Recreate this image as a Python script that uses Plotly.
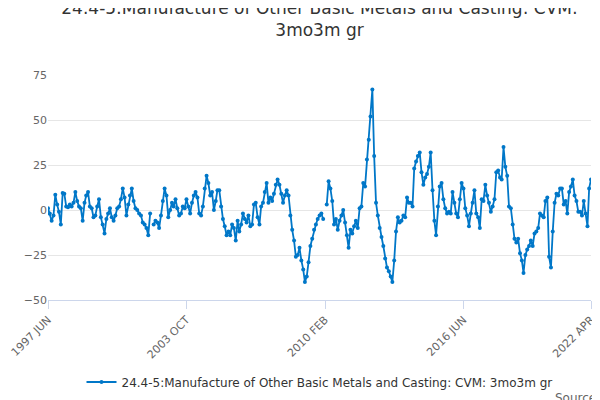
import pandas as pd
import plotly.graph_objects as go

start = "1997-06-01"
values = [
 1, -2, -6, -3, 8.5, 3, -1, -8, 9.4, 9, 2, 1.5,
 3, 2, 4, 10, 5, 2, 1, -6, 4, 8, 10, 2,
 1, -4, -3, 2, 6, -4, -8, -13, -5, -2, 1, -4,
 -6, -3, 1, 2, 6, 12, 7, -3, 3, 8, 12, 5,
 1, 0, -2, -3, -7, -8, -10, -14, -2, None, -8, -6,
 -7, -10, -3, 5, 12, 8, -4, 0, 4, 2, 6, 1,
 -3, -2, 2, 1, 6, 2, -2, 4, 8, 10, 7, -2,
 -3, 2, 12, 19, 15, 8, 10, 0, 5, 11, 11, 2,
 -5, -9, -14, -12, -14, -8, -10, -17, -6, -12, -8, -2,
 -5, -7, -3, -9, -8, 3, 4, -4, -8, 2, 4, 10,
 15, 4, 7, 5, 9, 14, 17, 14, 9, 4, 8, 11,
 8, -3, -11, -17, -26, -25, -21, -28, -33, -40, -37, -29,
 -20, -16, -11, -8, -5, -3, -2, -5, None, 3, 16, 12,
 5, -8, -5, -11, -6, -3, 0, -7, -14, -21, -11, -13,
 -9, -6, -10, 1, 2, 15, 13, 28, 39, 52, 67, 30,
 4, -3, -10, -15, -20, -27, -32, -34, -37, -40, -28, -12,
 -4, -7, -6, -3, -4, 7, 4, 4, 2, 23, 27, 30,
 32, 21, 14, 18, 20, 24, 32, 11, -6, -14, 2, 13,
 15, 6, 1, -2, -1, -2, 10, 4, -2, -4, 6, 15,
 12, 1, -3, -9, -2, 4, 11, -2, -4, -10, 6, 5,
 14, 8, 4, -1, 2, 6, 21, 22, 18, 17, 35, 24,
 19, 2, 1, -8, -16, -18, -16, -24, -28, -35, -25, -22,
 -20, -17, -20, -13, -12, -10, -2, -3, -4, 5, 7, -26,
 -32, -12, 4, 9, 8, 12, 12, 3, 5, -2, 10, 13,
 17, 8, 5, -1, -1, -3, 5, -2, -9, 12, 17,
]
dates = pd.date_range(start, periods=len(values), freq="MS")
tick_dates = ["1997-06-01", "2003-10-01", "2010-02-01", "2016-06-01", "2022-04-01"]
tick_labels = ["1997 JUN", "2003 OCT", "2010 FEB", "2016 JUN", "2022 APR"]
name = "24.4-5:Manufacture of Other Basic Metals and Casting: CVM: 3mo3m gr"

fig = go.Figure(go.Scatter(
    x=dates, y=values, mode="lines+markers", name=name,
    line=dict(color="#0077c8", width=1.8), marker=dict(size=4, color="#0077c8"),
    connectgaps=False))
fig.update_layout(
    width=600, height=400, plot_bgcolor="white", paper_bgcolor="white",
    font=dict(family="DejaVu Sans", color="#666", size=11),
    title=dict(text="24.4-5:Manufacture of Other Basic Metals and Casting: CVM:<br>3mo3m gr",
               x=0.5, xanchor="center", xref="paper", y=0.985, yref="container", yanchor="top",
               font=dict(size=17, color="#333")),
    margin=dict(l=40, r=17, t=67, b=108, autoexpand=False),
    showlegend=True,
    legend=dict(orientation="h", x=0.5, xanchor="center", y=-0.3, yanchor="top",
                font=dict(size=12, color="#333")),
    annotations=[dict(text="Source:", x=1.02, xref="paper", xanchor="right",
                      y=-0.435, yref="paper", yanchor="middle", showarrow=False,
                      font=dict(size=12, color="#666"))],
)
fig.update_xaxes(tickvals=tick_dates, ticktext=tick_labels, tickangle=-45,
                 showgrid=False, showline=True, linecolor="#ccd6eb",
                 ticks="outside", tickcolor="#ccd6eb", ticklen=8,
                 range=["1997-06-01", "2022-04-01"])
fig.update_yaxes(range=[-50, 75], tickvals=[-50, -25, 0, 25, 50, 75],
                 gridcolor="#e6e6e6", zeroline=False)
fig.write_html("out.html")
